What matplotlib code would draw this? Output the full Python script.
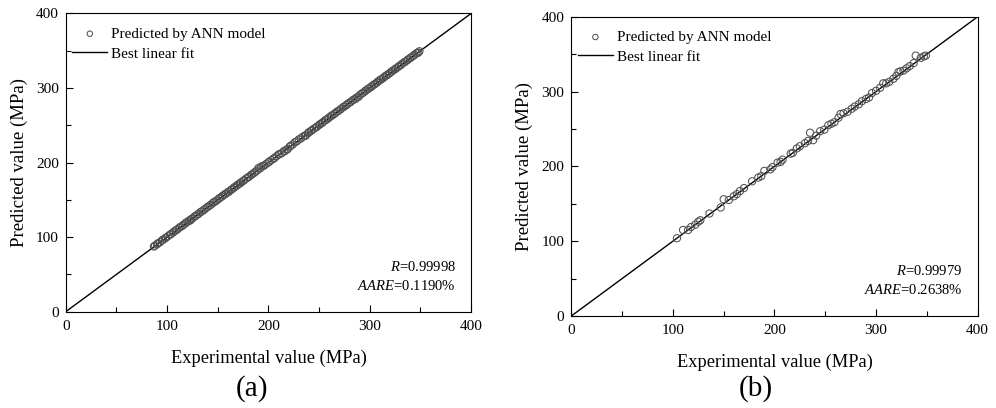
import matplotlib
matplotlib.use("Agg")
import matplotlib.pyplot as plt
from matplotlib.ticker import MultipleLocator

plt.rcParams['font.family'] = ['Liberation Serif', 'DejaVu Serif']
plt.rcParams['mathtext.fontset'] = 'custom'
plt.rcParams['mathtext.rm'] = 'Liberation Serif'
plt.rcParams['mathtext.it'] = 'Liberation Serif:italic'

# Panel (a): training set
exp_a = [87, 88, 90, 91, 93, 95, 96, 98, 99, 101, 103, 104, 106, 107, 109, 110, 112,
         113, 115, 116, 118, 119, 121, 122, 123, 124, 125, 127, 128, 130, 131, 133,
         134, 136, 137, 139, 140, 142, 143, 145, 146, 148, 149, 151, 152, 154, 155,
         157, 158, 160, 161, 163, 164, 166, 167, 169, 170, 172, 173, 175, 176, 178,
         180, 181, 183, 184, 186, 187, 189, 190, 192, 193, 195, 196, 198, 200, 201,
         203, 205, 206, 208, 210, 211, 213, 215, 216, 218, 219, 221, 222, 224, 226,
         228, 230, 232, 234, 236, 237, 239, 240, 242, 243, 245, 247, 248, 250, 251,
         253, 254, 256, 257, 259, 260, 262, 263, 265, 266, 268, 269, 271, 272, 274,
         275, 277, 278, 280, 281, 283, 284, 286, 287, 289, 290, 292, 293, 295, 296,
         298, 299, 301, 302, 304, 305, 307, 308, 310, 311, 313, 314, 316, 317, 319,
         320, 322, 323, 325, 326, 328, 329, 331, 332, 334, 335, 337, 338, 340, 341,
         343, 344, 346, 347, 348, 349]
pred_a = [87.5, 88.6, 90.4, 91.8, 93.2, 95.6, 96.7, 98.3, 99.5, 101.4, 103.5, 104.2,
          106.4, 107.8, 109.3, 110.3, 112.6, 113.6, 115.2, 116.4, 118.5, 119.8, 121.3,
          122.4, 122.6, 124.3, 125.1, 127.5, 128.4, 130.3, 131.2, 133.6, 134.5, 136.2,
          137.3, 139.5, 140.6, 142.3, 143.4, 145.6, 146.8, 148.3, 149.2, 151.6, 152.5,
          154.3, 155.7, 157.4, 158.3, 160.5, 160.9, 163.4, 164.2, 166.5, 167.3, 169.4,
          170.6, 172.1, 173.5, 175.3, 176.4, 178.6, 180.3, 181.2, 183.6, 184.4, 186.3,
          187.6, 189.5, 192.5, 192.4, 194.8, 195.6, 196.3, 198.4, 200.2, 201.5, 203.4,
          205.3, 206.2, 208.6, 210.8, 211.4, 212.6, 215.3, 215.2, 217.5, 218.0, 221.4,
          222.6, 224.3, 227.2, 228.5, 231.0, 232.4, 234.6, 236.3, 236.2, 239.4, 240.8,
          242.3, 243.7, 245.5, 247.2, 248.3, 250.4, 251.6, 253.2, 254.5, 256.8, 257.3,
          259.3, 260.6, 262.7, 263.4, 265.2, 266.5, 268.6, 269.3, 271.3, 272.5, 274.5,
          275.4, 277.2, 278.6, 280.4, 281.3, 283.3, 284.5, 285.4, 287.3, 288.2, 290.5,
          292.5, 293.3, 295.3, 296.6, 298.6, 299.4, 301.2, 302.5, 304.4, 305.3, 307.3,
          308.6, 310.7, 311.4, 313.2, 314.5, 316.6, 317.3, 319.2, 320.4, 322.5, 323.6,
          325.3, 326.4, 328.4, 329.5, 331.2, 332.6, 334.6, 335.3, 337.3, 338.5, 340.4,
          341.3, 343.2, 344.5, 346.5, 347.2, 347.6, 349.3]

# Panel (b): testing set
exp_b = [104, 110, 115, 118, 122, 125, 127, 136, 147, 150, 155, 160, 163, 166, 170,
         178, 184, 187, 190, 196, 198, 203, 206, 208, 216, 218, 222, 225, 230, 233,
         235, 238, 241, 245, 249, 253, 256, 259, 263, 265, 268, 272, 276, 279, 283,
         286, 290, 293, 296, 300, 304, 307, 310, 313, 317, 320, 322, 324, 327, 330,
         333, 337, 339, 344, 347, 349]
pred_b = [104, 115, 115, 119, 122, 126, 128, 137, 145, 156, 155, 160, 163, 167, 171,
          180, 185, 187, 194, 196, 199, 205, 206, 209, 217, 218, 224, 227, 231, 234,
          245, 235, 241, 247, 249, 255, 257, 259, 265, 270, 271, 273, 277, 280, 283,
          287, 290, 292, 298, 301, 305, 311, 311, 313, 317, 321, 326, 327, 328, 331,
          334, 338, 348, 345, 347, 348]

fit_x = [0, 400]
fit_y = [0, 400]

panels = [
    (exp_a, pred_a, "0.99998", "0.1190%", "(a)", [0.066, 0.236, 0.407, 0.731], 0.253),
    (exp_b, pred_b, "0.99979", "0.2638%", "(b)", [0.5736, 0.2255, 0.408, 0.7335], 0.759),
]

fig = plt.figure(figsize=(9.96, 4.08), dpi=100)
for xs, ys, r_val, aare_val, tag, rect, tag_x in panels:
    ax = fig.add_axes(rect)
    ax.scatter(xs, ys, s=27, facecolors='none', edgecolors='#505050',
               linewidths=0.75, label='Predicted by ANN model', zorder=3)
    ax.plot(fit_x, fit_y, color='black', lw=1.0, label='Best linear fit', zorder=2)
    ax.set_xlim(0, 400)
    ax.set_ylim(0, 400)
    ax.xaxis.set_major_locator(MultipleLocator(100))
    ax.yaxis.set_major_locator(MultipleLocator(100))
    ax.xaxis.set_minor_locator(MultipleLocator(50))
    ax.yaxis.set_minor_locator(MultipleLocator(50))
    ax.tick_params(which='both', direction='in', top=False, right=False,
                   labelsize=11, width=0.8)
    ax.tick_params(axis='x', pad=6)
    ax.tick_params(axis='y', pad=5)
    ax.tick_params(which='major', length=5)
    ax.tick_params(which='minor', length=3.5)
    for sp in ax.spines.values():
        sp.set_linewidth(0.8)
    ax.set_xlabel('Experimental value (MPa)', fontsize=13.2, labelpad=12)
    ax.set_ylabel('Predicted value (MPa)', fontsize=13.5, labelpad=6)
    ax.legend(loc='upper left', frameon=False, fontsize=11, handlelength=2.3,
              handletextpad=0.25, borderaxespad=0.0, borderpad=0.4,
              labelspacing=0.4, markerscale=0.75,
              bbox_to_anchor=(0.001, 0.975))
    ax.text(385, 60, r'$\mathit{R}$=' + r_val, ha='right', va='center', fontsize=10.5)
    ax.text(385, 34.5, r'$\mathit{AARE}$=' + aare_val, ha='right', va='center',
            fontsize=10.5)
    fig.text(tag_x, 1 - 389 / 408, tag, ha='center', va='center', fontsize=21)

fig.savefig('out.png', dpi=100)
